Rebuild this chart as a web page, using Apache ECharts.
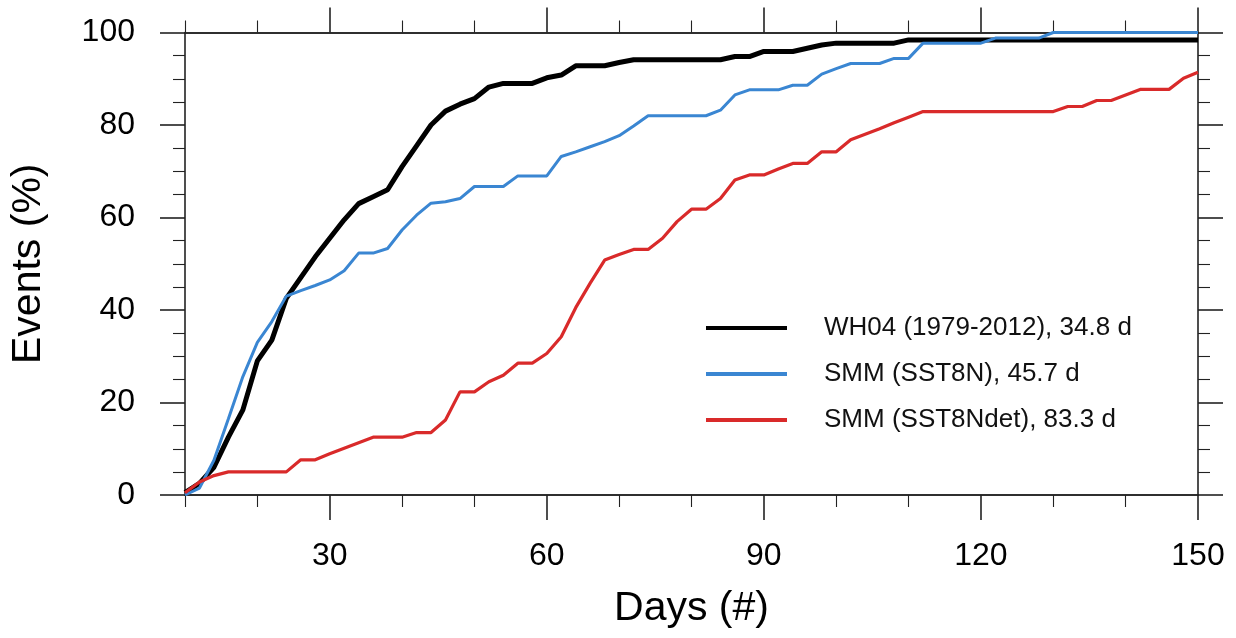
<!DOCTYPE html>
<html>
<head>
<meta charset="utf-8">
<script src="https://cdn.jsdelivr.net/npm/echarts@6/dist/echarts.min.js"></script>
<style>
html,body{margin:0;padding:0;background:#fff;}
#chart{width:1236px;height:638px;}
</style>
</head>
<body>
<div id="chart"></div>
<script>
const days = [10,12,14,16,18,20,22,24,26,28,30,32,34,36,38,40,42,44,46,48,50,52,54,56,58,60,62,64,66,68,70,72,74,76,78,80,82,84,86,88,90,92,94,96,98,100,102,104,106,108,110,112,114,116,118,120,122,124,126,128,130,132,134,136,138,140,142,144,146,148,150];

const wh04 = [0.5,2.5,6,12.5,18.4,29,33.5,42.5,47,51.5,55.5,59.5,63,64.5,66,71,75.5,80,83,84.5,85.7,88.2,89,89,89,90.2,90.8,92.8,92.8,92.8,93.5,94.1,94.1,94.1,94.1,94.1,94.1,94.1,94.8,94.8,95.9,95.9,95.9,96.6,97.3,97.7,97.7,97.7,97.7,97.7,98.4,98.4,98.4,98.4,98.4,98.4,98.4,98.4,98.4,98.4,98.4,98.4,98.4,98.4,98.4,98.4,98.4,98.4,98.4,98.4,98.4];

const smmSST8N = [0,1.5,7.5,16.5,25.6,33,37.5,43,44.2,45.3,46.5,48.5,52.3,52.3,53.3,57.3,60.5,63.1,63.4,64.1,66.7,66.7,66.7,69,69,69,73.2,74.2,75.3,76.4,77.7,79.8,82,82,82,82,82,83.2,86.5,87.6,87.6,87.6,88.6,88.6,91,92.2,93.3,93.3,93.3,94.4,94.4,97.7,97.7,97.7,97.7,97.7,98.8,98.8,98.8,98.8,100,100,100,100,100,100,100,100,100,100,100];

const smmSST8Ndet = [0.5,2.8,4.2,5,5,5,5,5,7.6,7.6,8.9,10.1,11.3,12.5,12.5,12.5,13.5,13.5,16.2,22.3,22.3,24.5,25.9,28.5,28.5,30.6,34.2,40.5,45.8,50.8,52,53.1,53.1,55.5,59.1,61.8,61.8,64.1,68.1,69.2,69.2,70.5,71.7,71.7,74.2,74.2,76.8,78,79.2,80.5,81.7,82.9,82.9,82.9,82.9,82.9,82.9,82.9,82.9,82.9,82.9,84,84,85.3,85.3,86.5,87.7,87.7,87.7,90.1,91.4];

const seriesNames = ['WH04 (1979-2012), 34.8 d', 'SMM (SST8N), 45.7 d', 'SMM (SST8Ndet), 83.3 d'];
const xMajorTicks = [30,60,90,120,150];
const xMinorTicks = [10,20,40,50,70,80,100,110,130,140];
const xTitle = 'Days (#)';
const yTitle = 'Events (%)';

const FONT = '"Liberation Sans", Arial, Helvetica, sans-serif';
const AX = '#222';

function pairs(vals){ return days.map((d,i)=>[d, vals[i]]); }

function xAx(pos, major, withLabel){
  return {
    type:'value', min:10, max:150, position:pos, gridIndex:0,
    axisLine:{show:true, lineStyle:{color:AX, width:1.6}},
    axisTick:{show:true, inside:false, customValues: major ? xMajorTicks : xMinorTicks,
      length: major ? 25 : 12, lineStyle:{color:AX, width: major ? 1.6 : 1.1}},
    axisLabel: withLabel ? {show:true, customValues:xMajorTicks, fontSize:32, color:'#000', fontFamily:FONT, margin:45}
                         : {show:false},
    splitLine:{show:false},
    name: withLabel ? xTitle : '',
    nameLocation:'middle', nameGap:93,
    nameTextStyle:{fontSize:41, color:'#000', fontFamily:FONT}
  };
}

function yAx(pos, withLabel){
  return {
    type:'value', min:0, max:100, interval:20, position:pos, gridIndex:0,
    axisLine:{show:true, lineStyle:{color:AX, width:1.6}},
    axisTick:{show:true, inside:false, length:25, lineStyle:{color:AX, width:1.6}},
    minorTick:{show:true, splitNumber:4, length:12, lineStyle:{color:AX, width:1.1}},
    axisLabel: withLabel ? {show:true, fontSize:32, color:'#000', fontFamily:FONT, margin:50} : {show:false},
    splitLine:{show:false},
    name: withLabel ? yTitle : '',
    nameLocation:'middle', nameGap:136, nameRotate:90,
    nameTextStyle:{fontSize:41, color:'#000', fontFamily:FONT}
  };
}

const chart = echarts.init(document.getElementById('chart'), null, {renderer:'canvas'});
chart.setOption({
  animation:false,
  backgroundColor:'#fff',
  grid:{left:182, right:38, top:32.5, bottom:143, containLabel:false},
  xAxis:[xAx('bottom', true, true), xAx('bottom', false, false), xAx('top', true, false), xAx('top', false, false)],
  yAxis:[yAx('left', true), yAx('right', false)],
  legend:{
    orient:'vertical', left:701, top:310,
    icon:'rect', itemWidth:81, itemHeight:4, itemGap:20,
    data: seriesNames,
    textStyle:{fontSize:26, color:'#111', fontFamily:FONT, padding:[0,0,0,32]}
  },
  series:[
    {name:seriesNames[0], type:'line', data:pairs(wh04), symbol:'none', xAxisIndex:0, yAxisIndex:0,
     lineStyle:{color:'#000', width:5}, itemStyle:{color:'#000'}, z:2},
    {name:seriesNames[1], type:'line', data:pairs(smmSST8N), symbol:'none', xAxisIndex:0, yAxisIndex:0,
     lineStyle:{color:'#3a86d2', width:3}, itemStyle:{color:'#3a86d2'}, z:3},
    {name:seriesNames[2], type:'line', data:pairs(smmSST8Ndet), symbol:'none', xAxisIndex:0, yAxisIndex:0,
     lineStyle:{color:'#d92a2a', width:3.2}, itemStyle:{color:'#d92a2a'}, z:4}
  ]
});
</script>
</body>
</html>
